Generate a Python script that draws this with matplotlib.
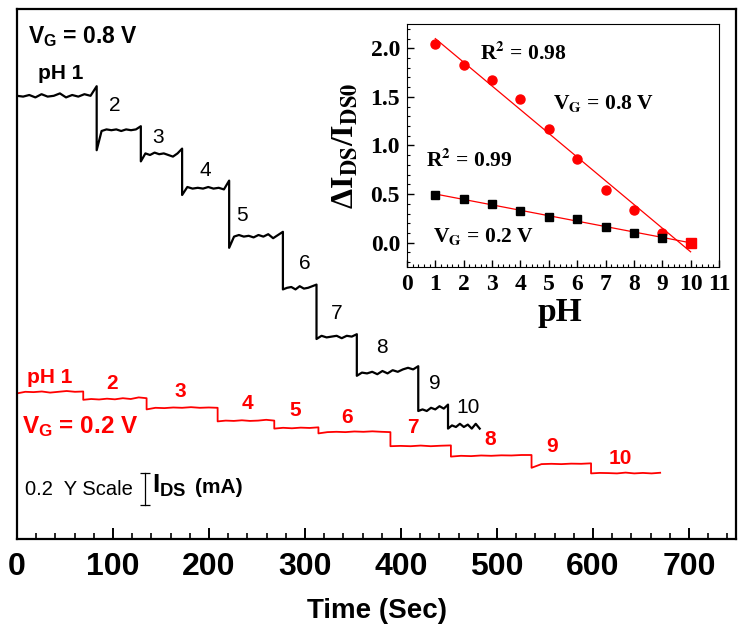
import numpy as np
import matplotlib.pyplot as plt
from matplotlib.ticker import MultipleLocator

plt.rcParams['font.family'] = 'Liberation Sans'
plt.rcParams['mathtext.fontset'] = 'custom'
plt.rcParams['mathtext.rm'] = 'Liberation Sans:bold'
plt.rcParams['mathtext.bf'] = 'Liberation Sans:bold'
plt.rcParams['mathtext.it'] = 'Liberation Sans:bold'

# step edges in seconds, readings of I_DS (mA, offset) along each pH plateau
black_edges = [0, 83, 129, 172, 221, 277, 312, 354, 418, 449, 482]
black_steps = [
    [2.77, 2.765, 2.775, 2.76, 2.78, 2.765, 2.77, 2.785, 2.76, 2.775, 2.765, 2.78, 2.77, 2.83],
    [2.43, 2.55, 2.56, 2.555, 2.56, 2.55, 2.56, 2.555, 2.56, 2.58],
    [2.36, 2.41, 2.40, 2.415, 2.405, 2.41, 2.40, 2.39, 2.41, 2.44],
    [2.15, 2.20, 2.19, 2.195, 2.19, 2.20, 2.19, 2.195, 2.185, 2.24],
    [1.82, 1.89, 1.90, 1.89, 1.895, 1.885, 1.90, 1.89, 1.905, 1.88, 1.90, 1.92],
    [1.56, 1.57, 1.575, 1.56, 1.58, 1.565, 1.57, 1.58, 1.59],
    [1.25, 1.27, 1.26, 1.265, 1.27, 1.255, 1.27, 1.265, 1.28],
    [1.02, 1.04, 1.035, 1.045, 1.03, 1.05, 1.035, 1.055, 1.045, 1.06, 1.07, 1.06, 1.08],
    [0.80, 0.81, 0.80, 0.82, 0.81, 0.83, 0.815, 0.84],
    [0.69, 0.71, 0.70, 0.72, 0.70, 0.715, 0.69, 0.72, 0.69],
]
red_edges = [0, 69, 135, 209, 268, 314, 389, 452, 536, 598, 670]
red_steps = [
    [0.91, 0.92, 0.918, 0.922, 0.915, 0.92, 0.925, 0.92, 0.922],
    [0.87, 0.875, 0.872, 0.877, 0.873, 0.88, 0.875, 0.885, 0.88],
    [0.81, 0.82, 0.818, 0.822, 0.82, 0.824, 0.82, 0.822, 0.82],
    [0.735, 0.74, 0.738, 0.742, 0.738, 0.74, 0.745, 0.74],
    [0.69, 0.695, 0.692, 0.696, 0.694, 0.698],
    [0.66, 0.668, 0.67, 0.668, 0.672, 0.67, 0.673, 0.67, 0.668],
    [0.58, 0.582, 0.58, 0.584, 0.58, 0.583, 0.585],
    [0.515, 0.52, 0.518, 0.522, 0.52, 0.523, 0.522, 0.525, 0.525],
    [0.445, 0.468, 0.47, 0.468, 0.471, 0.47, 0.473],
    [0.41, 0.413, 0.412, 0.41, 0.415, 0.41, 0.413, 0.41, 0.414],
]
step_names = ['pH 1', '2', '3', '4', '5', '6', '7', '8', '9', '10']

# inset: relative change vs pH
ph = [1, 2, 3, 4, 5, 6, 7, 8, 9, 10]
ratio_08 = [2.04, 1.825, 1.674, 1.474, 1.168, 0.863, 0.546, 0.333, 0.103, 0.0]
ratio_02 = [0.495, 0.45, 0.395, 0.323, 0.268, 0.247, 0.162, 0.103, 0.052, 0.0]


def trace(edges, steps):
    t, y = [], []
    for a, b, vals in zip(edges[:-1], edges[1:], steps):
        t.extend(np.linspace(a, b, len(vals)))
        y.extend(vals)
    return t, y


fig = plt.figure(figsize=(7.47, 6.39), dpi=100)
ax = fig.add_axes([0.02276, 0.15649, 0.96252, 0.82942])

t, y = trace(black_edges, black_steps)
ax.plot(t, y, color='black', lw=1.6)
t, y = trace(red_edges, red_steps)
ax.plot(t, y, color='red', lw=1.3)

# step labels
black_pos = [(45, 2.912), (102, 2.712), (147, 2.512), (196, 2.306), (234, 2.025),
             (300, 1.725), (333, 1.412), (380, 1.2), (435, 0.975), (470, 0.825)]
red_pos = [(34.4, 1.012), (99, 0.975), (170, 0.925), (240, 0.844), (290, 0.806),
           (344, 0.762), (412, 0.694), (493, 0.625), (557, 0.581), (628, 0.506)]
for i, (name, (x, yy)) in enumerate(zip(step_names, black_pos)):
    ax.text(x, yy, name, ha='center', va='center', fontsize=15,
            fontweight='bold' if i == 0 else 'normal', color='black')
for name, (x, yy) in zip(step_names, red_pos):
    ax.text(x, yy, name, ha='center', va='center', fontsize=15,
            fontweight='bold', color='red')

ax.text(11.5, 3.14, 'V$_G$ = 0.8 V', ha='left', va='center', fontsize=16.5,
        fontweight='bold', color='black')
ax.text(5.2, 0.70, 'V$_G$ = 0.2 V', ha='left', va='center', fontsize=17.5,
        fontweight='bold', color='red')

# y scale bar
ax.text(8.3, 0.275, '0.2  Y Scale', ha='left', va='baseline', fontsize=14.5)
ax.plot([133.3, 133.3], [0.2125, 0.4125], color='black', lw=0.9,
        marker='_', ms=7, mew=0.9)
ax.text(140.6, 0.287, 'I$_{DS}$', ha='left', va='baseline', fontsize=19, fontweight='bold')
ax.text(185, 0.287, '(mA)', ha='left', va='baseline', fontsize=15, fontweight='bold')

ax.set_xlim(0, 749)
ax.set_ylim(0, 3.3125)
ax.set_yticks([])
ax.xaxis.set_major_locator(MultipleLocator(100))
ax.xaxis.set_minor_locator(MultipleLocator(20))
ax.tick_params(axis='x', which='major', direction='in', length=8, width=1.4,
               labelsize=23, pad=9)
ax.tick_params(axis='x', which='minor', direction='in', length=4.5, width=1.2)
for lbl in ax.get_xticklabels():
    lbl.set_fontweight('bold')
for sp in ax.spines.values():
    sp.set_linewidth(1.6)
ax.set_xlabel('Time (Sec)', fontsize=20, fontweight='bold')
ax.xaxis.set_label_coords(0.5, -0.112)

# inset
axi = fig.add_axes([0.5448, 0.5822, 0.4177, 0.3803])
fit08 = np.polyfit(ph, ratio_08, 1)
fit02 = np.polyfit(ph, ratio_02, 1)
xs = np.array([ph[0], ph[-1]])
axi.plot(xs, np.polyval(fit08, xs), color='red', lw=0.9)
axi.plot(xs, np.polyval(fit02, xs), color='red', lw=0.9)
axi.plot(ph[:-1], ratio_08[:-1], 'o', color='red', ms=6.5, zorder=3)
axi.plot(ph[:-1], ratio_02[:-1], 's', color='black', ms=6, zorder=3)
axi.plot(ph[-1:], ratio_08[-1:], 's', color='red', ms=6.5, zorder=4)

serif = 'Liberation Serif'
axi.text(2.57, 1.95, r'R$^{\mathbf{2}}$ = 0.98', fontsize=15.5, fontweight='bold',
         family=serif, math_fontfamily='stix', va='center')
axi.text(5.15, 1.43, r'V$_{\mathbf{G}}$ = 0.8 V', fontsize=15.5, fontweight='bold',
         family=serif, math_fontfamily='stix', va='center')
axi.text(0.67, 0.85, r'R$^{\mathbf{2}}$ = 0.99', fontsize=15.5, fontweight='bold',
         family=serif, math_fontfamily='stix', va='center')
axi.text(0.92, 0.06, r'V$_{\mathbf{G}}$ = 0.2 V', fontsize=15.5, fontweight='bold',
         family=serif, math_fontfamily='stix', va='center')

axi.set_xlim(0, 11)
axi.set_ylim(-0.25, 2.25)
axi.xaxis.set_major_locator(MultipleLocator(1))
axi.xaxis.set_minor_locator(MultipleLocator(0.2))
axi.yaxis.set_major_locator(MultipleLocator(0.5))
axi.yaxis.set_minor_locator(MultipleLocator(0.1))
axi.tick_params(which='major', direction='in', length=5, width=1, labelsize=17, pad=5)
axi.tick_params(which='minor', direction='in', length=2.5, width=0.8)
axi.yaxis.set_major_formatter(plt.FormatStrFormatter('%.1f'))
for lbl in axi.get_xticklabels() + axi.get_yticklabels():
    lbl.set_fontfamily(serif)
    lbl.set_fontweight('bold')
axi.set_xlabel('pH', fontsize=24, fontweight='bold', family=serif)
axi.xaxis.set_label_coords(0.49, -0.125)
axi.set_ylabel(r'ΔI$_{\mathbf{DS}}$/I$_{\mathbf{DS0}}$', fontsize=23, fontweight='bold',
               family=serif, math_fontfamily='stix')
axi.yaxis.set_label_coords(-0.15, 0.5)

fig.savefig('out.png', dpi=100)
